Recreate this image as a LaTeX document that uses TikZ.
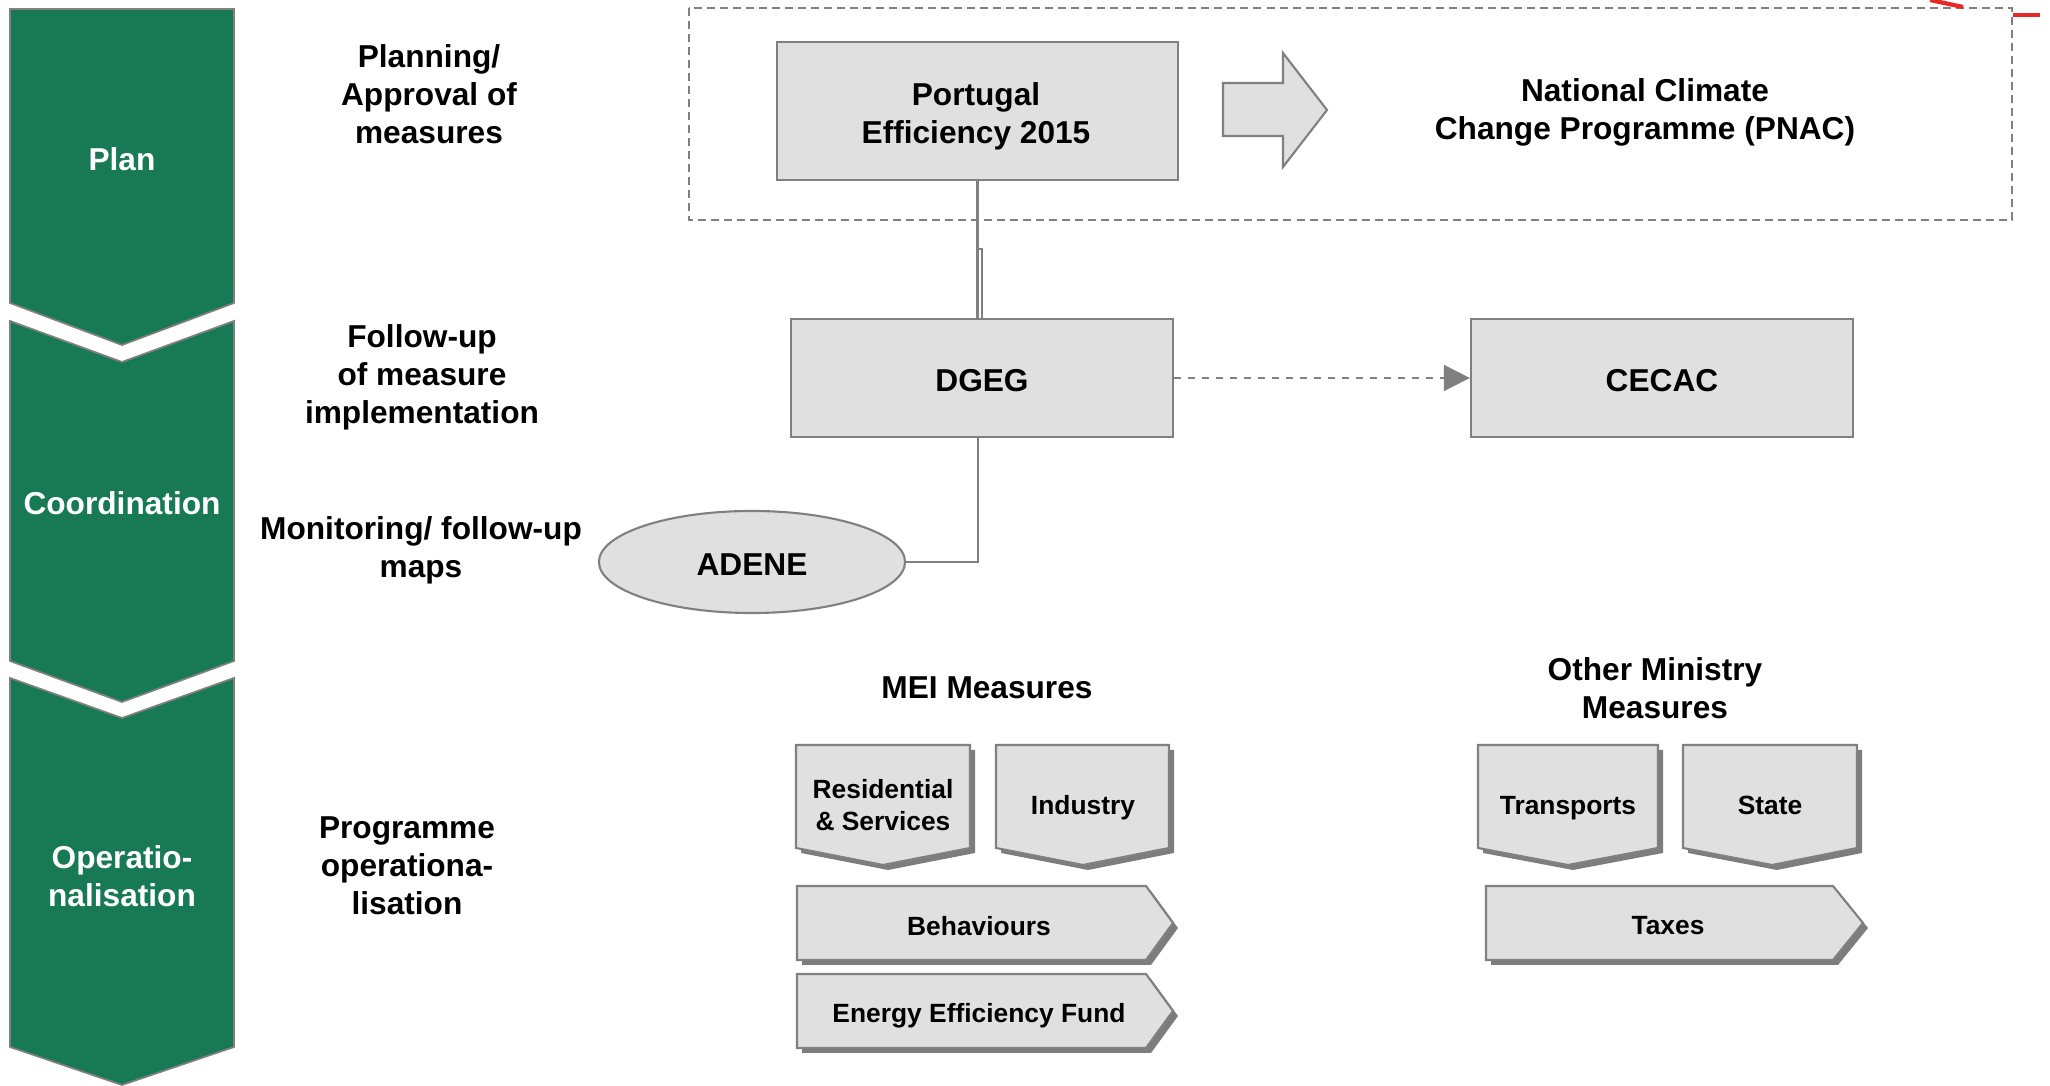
\documentclass[tikz,border=0pt]{standalone}
\usepackage{fontspec}
\setmainfont{Liberation Sans}
\usetikzlibrary{arrows.meta,shapes.geometric}
\definecolor{dgreen}{RGB}{24,122,85}
\definecolor{lgray}{RGB}{224,224,224}
\definecolor{bgray}{RGB}{128,128,128}
\definecolor{sgray}{RGB}{125,125,125}
\definecolor{redart}{RGB}{230,40,40}
\newcommand\mydchev[3]{%
  \fill[sgray] (#1+5,750) -- (#2+5,750) -- (#2+5,853) -- (#3+5,870) -- (#1+5,853) -- cycle;
  \path[chev] (#1,745) -- (#2,745) -- (#2,848) -- (#3,865) -- (#1,848) -- cycle;}
\newcommand\myrchev[5]{%
  \fill[sgray] (#1+5,#4+5) -- (#2+5,#4+5) -- (#3+5,{(#4+#5)/2+5}) -- (#2+5,#5+5) -- (#1+5,#5+5) -- cycle;
  \path[chev] (#1,#4) -- (#2,#4) -- (#3,{(#4+#5)/2}) -- (#2,#5) -- (#1,#5) -- cycle;}
\begin{document}
\begin{tikzpicture}[x=0.01cm,y=-0.01cm,
  txt/.style={font=\fontsize{9}{10.8}\selectfont\bfseries, align=center, inner sep=0pt},
  small/.style={font=\fontsize{7.5}{9.3}\selectfont\bfseries, align=center, inner sep=0pt},
  wtxt/.style={txt, text=white},
  gbox/.style={draw=bgray, line width=0.6pt, fill=lgray},
  band/.style={fill=dgreen, draw=bgray, line width=0.5pt},
  chev/.style={fill=lgray, draw=bgray, line width=0.6pt},
  conn/.style={draw=bgray, line width=0.6pt}]
\useasboundingbox (0,0) rectangle (2050,1086);

% green phase column
\path[band] (10,9) -- (234,9) -- (234,303) -- (122,345) -- (10,303) -- cycle;
\path[band] (10,321) -- (122,362) -- (234,321) -- (234,661) -- (122,702) -- (10,661) -- cycle;
\path[band] (10,678) -- (122,718) -- (234,678) -- (234,1047) -- (122,1085) -- (10,1047) -- cycle;
\node[wtxt] (plan) at (122,159) {Plan};
\node[wtxt] (coord) at (122,503) {Coordination};
\node[wtxt] (oper) at (122,876) {Operatio-\\nalisation};

% left labels
\node[txt] (l1) at (429,94) {Planning/\\Approval of\\measures};
\node[txt] (l2) at (422,377) {Follow-up\\of measure\\implementation};
\node[txt] (l3) at (421,550) {Monitoring/ follow-up\\maps};
\node[txt] (l4) at (407,866) {Programme\\operationa-\\lisation};

% dashed plan box and red fragments
\draw[bgray, line width=0.6pt, dash pattern=on 0.08cm off 0.05cm] (689,8) rectangle (2012,220);
\draw[redart, line width=1.2pt] (1930,0) .. controls (1946,4) .. (1963,7);
\draw[redart, line width=0.9pt] (2013,15) -- (2040,15);

% top row
\node[gbox, minimum width=4.01cm, minimum height=1.38cm] (P) at (977.5,111) {};
\node[txt] (Ptxt) at (976,116) {Portugal\\Efficiency 2015};
\path[chev] (1223,83) -- (1283,83) -- (1283,53) -- (1327,110) -- (1283,167) -- (1283,136) -- (1223,136) -- cycle;
\node[txt] (pnac) at (1645,112) {National Climate\\Change Programme (PNAC)};

% coordination row
\node[gbox, minimum width=3.82cm, minimum height=1.18cm] (dgeg) at (982,378) {};
\node[txt] (dgegtxt) at (982,381) {DGEG};
\node[gbox, minimum width=3.82cm, minimum height=1.18cm] (cecac) at (1662,378) {};
\node[txt] (cecactxt) at (1662,381) {CECAC};
\node[gbox, ellipse, inner sep=0pt, minimum width=3.06cm, minimum height=1.02cm] (adene) at (752,562) {};
\node[txt] (adenetxt) at (752,565) {ADENE};

% connectors
\draw[conn] (P.south) -- (P.south |- dgeg.north);
\draw[conn] ([yshift=-0.68cm]P.south) -| (dgeg.north);
\draw[conn] ([xshift=-0.04cm]dgeg.south) |- (adene.east);
\draw[conn, dash pattern=on 0.07cm off 0.07cm, -{Triangle[length=0.26cm,width=0.26cm]}] (dgeg.east) -- (cecac.west);

% measures
\node[txt] (mei) at (987,688) {MEI Measures};
\node[txt] (other) at (1655,688) {Other Ministry\\Measures};

\mydchev{796}{970}{883}
\node[small] (res) at (883,805) {Residential\\\& Services};
\mydchev{996}{1169}{1083}
\node[small] (ind) at (1083,808) {Industry};
\mydchev{1478}{1658}{1568}
\node[small] (trans) at (1568,808) {Transports};
\mydchev{1683}{1857}{1772}
\node[small] (state) at (1770,805) {State};

\myrchev{797}{1146}{1173}{886}{960}
\node[small] (beh) at (979,926) {Behaviours};
\myrchev{797}{1146}{1173}{974}{1048}
\node[small] (eef) at (979,1016) {Energy Efficiency Fund};
\myrchev{1486}{1833}{1863}{886}{960}
\node[small] (taxes) at (1668,926) {Taxes};
\end{tikzpicture}
\end{document}
